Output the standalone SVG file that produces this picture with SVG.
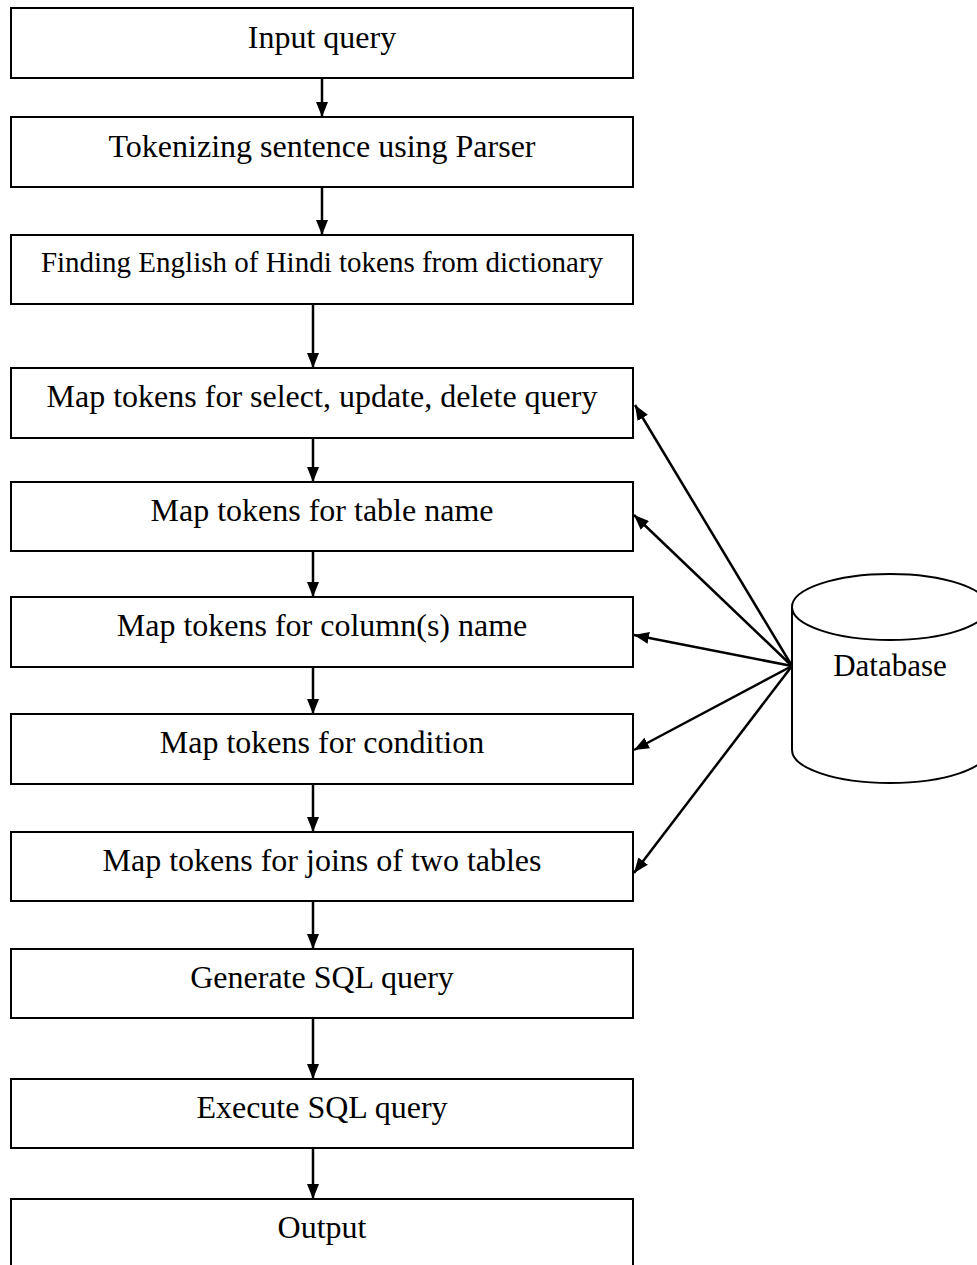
<svg xmlns="http://www.w3.org/2000/svg" width="977" height="1265" viewBox="0 0 977 1265">
  <style>
    .box { fill: #ffffff; stroke: #000000; stroke-width: 2; }
    .lbl { font-family: "Liberation Serif", "Times New Roman", serif; font-size: 32px; fill: #000000; text-anchor: middle; }
    .small { font-size: 29px; }
    .edge { fill: none; stroke: #000000; stroke-width: 2.5; marker-end: url(#head); }
    .db { fill: #ffffff; stroke: #000000; stroke-width: 2; }
  </style>
  <defs>
    <marker id="head" viewBox="0 0 15 12" refX="15" refY="6" markerWidth="15" markerHeight="12" markerUnits="userSpaceOnUse" orient="auto">
      <path d="M0,0 L15,6 L0,12 Z" fill="#000000"/>
    </marker>
  </defs>

  <rect width="977" height="1265" fill="#ffffff"/>

  <!-- process steps -->
  <g id="n-input">
    <rect class="box" x="11" y="8" width="622" height="70"/>
    <text class="lbl" x="322" y="48">Input query</text>
  </g>
  <g id="n-tokenize">
    <rect class="box" x="11" y="117" width="622" height="70"/>
    <text class="lbl" x="322" y="157">Tokenizing sentence using Parser</text>
  </g>
  <g id="n-dictionary">
    <rect class="box" x="11" y="235" width="622" height="69"/>
    <text class="lbl small" x="322" y="272">Finding English of Hindi tokens from dictionary</text>
  </g>
  <g id="n-map-type">
    <rect class="box" x="11" y="368" width="622" height="70"/>
    <text class="lbl" x="322" y="407">Map tokens for select, update, delete query</text>
  </g>
  <g id="n-map-table">
    <rect class="box" x="11" y="482" width="622" height="69"/>
    <text class="lbl" x="322" y="521">Map tokens for table name</text>
  </g>
  <g id="n-map-column">
    <rect class="box" x="11" y="597" width="622" height="70"/>
    <text class="lbl" x="322" y="636">Map tokens for column(s) name</text>
  </g>
  <g id="n-map-condition">
    <rect class="box" x="11" y="714" width="622" height="70"/>
    <text class="lbl" x="322" y="753">Map tokens for condition</text>
  </g>
  <g id="n-map-joins">
    <rect class="box" x="11" y="832" width="622" height="69"/>
    <text class="lbl" x="322" y="871">Map tokens for joins of two tables</text>
  </g>
  <g id="n-generate">
    <rect class="box" x="11" y="949" width="622" height="69"/>
    <text class="lbl" x="322" y="988">Generate SQL query</text>
  </g>
  <g id="n-execute">
    <rect class="box" x="11" y="1079" width="622" height="69"/>
    <text class="lbl" x="322" y="1118">Execute SQL query</text>
  </g>
  <g id="n-output">
    <rect class="box" x="11" y="1199" width="622" height="80"/>
    <text class="lbl" x="322" y="1238">Output</text>
  </g>

  <!-- database store -->
  <g id="n-database">
    <path class="db" d="M792,607 L792,750 A98,33 0 0 0 988,750 L988,607"/>
    <ellipse class="db" cx="890" cy="607" rx="98" ry="33"/>
    <text class="lbl" x="890" y="676" style="font-size:31px">Database</text>
  </g>

  <!-- connectors -->
  <g id="connectors">
    <line class="edge" x1="322" y1="78" x2="322" y2="117"/>
    <line class="edge" x1="322" y1="187" x2="322" y2="235"/>
    <line class="edge" x1="313" y1="304" x2="313" y2="368"/>
    <line class="edge" x1="313" y1="438" x2="313" y2="482"/>
    <line class="edge" x1="313" y1="551" x2="313" y2="597"/>
    <line class="edge" x1="313" y1="667" x2="313" y2="714"/>
    <line class="edge" x1="313" y1="784" x2="313" y2="832"/>
    <line class="edge" x1="313" y1="901" x2="313" y2="949"/>
    <line class="edge" x1="313" y1="1018" x2="313" y2="1079"/>
    <line class="edge" x1="313" y1="1148" x2="313" y2="1199"/>

    <line class="edge" x1="792" y1="666" x2="635" y2="405"/>
    <line class="edge" x1="792" y1="666" x2="634" y2="515"/>
    <line class="edge" x1="792" y1="666" x2="634" y2="635"/>
    <line class="edge" x1="792" y1="666" x2="634" y2="750"/>
    <line class="edge" x1="792" y1="666" x2="634" y2="873"/>
  </g>
</svg>
